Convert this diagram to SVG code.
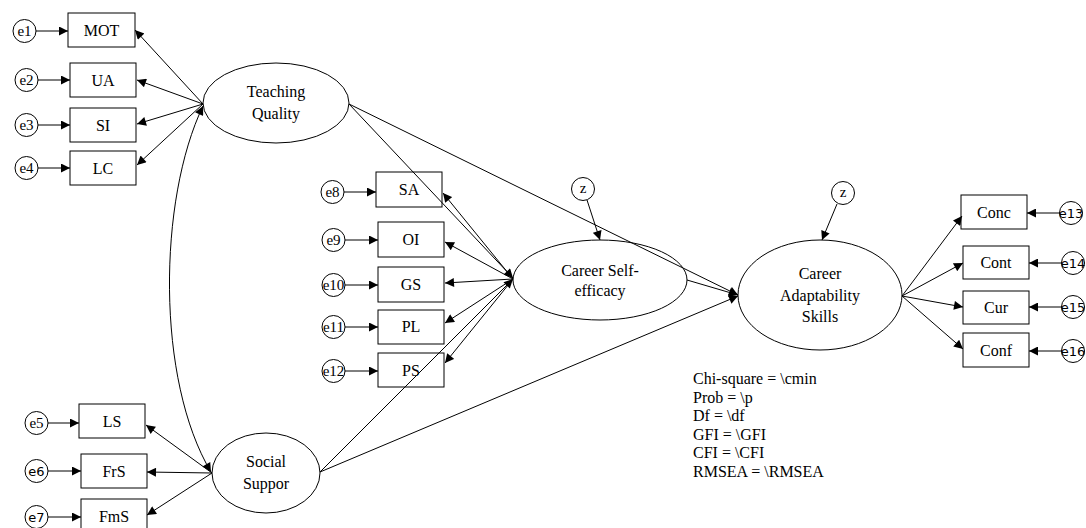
<svg xmlns="http://www.w3.org/2000/svg" width="1086" height="528" viewBox="0 0 1086 528" font-family="'Liberation Serif', 'Times New Roman', serif">
<style>
.bx{fill:none;stroke:#000;stroke-width:1}
.lv{fill:none;stroke:#000;stroke-width:1}
.ec{fill:none;stroke:#000;stroke-width:1}
text{font-family:'Liberation Serif','Times New Roman',serif;font-size:16px;fill:#000}
.t{text-anchor:middle}
.te{text-anchor:middle;font-size:15px}
.ts{text-anchor:middle;font-size:13px;font-family:'DejaVu Sans','Liberation Sans',sans-serif}
.c line,.c path{stroke:#000;stroke-width:1;fill:none;marker-end:url(#ah)}
.c path.cov{marker-start:url(#ahs)}
</style>
<defs>
<marker id="ah" viewBox="0 0 10 10" refX="10" refY="5" markerWidth="11" markerHeight="9" markerUnits="userSpaceOnUse" orient="auto"><path d="M0,0 L10,5 L0,10 z" fill="#000"/></marker>
<marker id="ahs" viewBox="0 0 10 10" refX="10" refY="5" markerWidth="11" markerHeight="9" markerUnits="userSpaceOnUse" orient="auto-start-reverse"><path d="M0,0 L10,5 L0,10 z" fill="#000"/></marker>
</defs>
<rect width="1086" height="528" fill="#fff"/>
<g class="c" id="connectors">
<line x1="36" y1="31" x2="68" y2="31"/>
<line x1="38" y1="80" x2="70" y2="80"/>
<line x1="38" y1="125" x2="70" y2="125"/>
<line x1="38" y1="168" x2="70" y2="168"/>
<line x1="203" y1="104" x2="135" y2="30"/>
<line x1="203" y1="104" x2="137" y2="80"/>
<line x1="203" y1="104" x2="137" y2="124"/>
<line x1="203" y1="104" x2="137" y2="165"/>
<line x1="48" y1="423" x2="79" y2="423"/>
<line x1="48" y1="471" x2="81" y2="471"/>
<line x1="48" y1="517" x2="81" y2="517"/>
<line x1="212" y1="473" x2="146" y2="425"/>
<line x1="212" y1="473" x2="147" y2="472"/>
<line x1="212" y1="473" x2="147" y2="515"/>
<path class="cov" d="M203,106 C158,200 156,380 211,472"/>
<line x1="344" y1="192" x2="376" y2="192"/>
<line x1="345" y1="240" x2="378" y2="240"/>
<line x1="345" y1="285" x2="378" y2="285"/>
<line x1="345" y1="327" x2="378" y2="327"/>
<line x1="345" y1="371" x2="378" y2="371"/>
<line x1="513" y1="279" x2="443" y2="193"/>
<line x1="513" y1="279" x2="445" y2="242"/>
<line x1="513" y1="279" x2="445" y2="283"/>
<line x1="513" y1="279" x2="445" y2="323"/>
<line x1="513" y1="279" x2="445" y2="363"/>
<line x1="349" y1="104" x2="513" y2="278"/>
<line x1="349" y1="104" x2="738" y2="295"/>
<line x1="687" y1="280" x2="738" y2="295"/>
<line x1="320" y1="472" x2="513" y2="279"/>
<line x1="320" y1="472" x2="738" y2="296"/>
<line x1="587" y1="200" x2="600" y2="240"/>
<line x1="837" y1="204" x2="822" y2="240"/>
<line x1="902" y1="296" x2="962" y2="216"/>
<line x1="902" y1="296" x2="963" y2="263"/>
<line x1="902" y1="296" x2="963" y2="307"/>
<line x1="902" y1="296" x2="963" y2="349"/>
<line x1="1060" y1="213" x2="1027" y2="213"/>
<line x1="1062" y1="263" x2="1029" y2="263"/>
<line x1="1062" y1="307" x2="1029" y2="307"/>
<line x1="1062" y1="351" x2="1029" y2="351"/>
</g>
<g id="tq"><ellipse class="lv" cx="276" cy="103" rx="73" ry="40"/><text class="t" x="276" y="97">Teaching</text><text class="t" x="276" y="119">Quality</text></g>
<g id="ss"><ellipse class="lv" cx="266" cy="473" rx="54" ry="40"/><text class="t" x="266" y="467">Social</text><text class="t" x="266" y="489">Suppor</text></g>
<g id="cse"><ellipse class="lv" cx="600" cy="280" rx="87" ry="40"/><text class="t" x="600" y="276">Career Self-</text><text class="t" x="600" y="296">efficacy</text></g>
<g id="cas"><ellipse class="lv" cx="820" cy="295" rx="82" ry="55"/><text class="t" x="820" y="279">Career</text><text class="t" x="820" y="301">Adaptability</text><text class="t" x="820" y="322">Skills</text></g>
<g id="mot"><rect class="bx" x="68" y="13" width="67" height="34"/><text class="t" x="101.5" y="36">MOT</text></g>
<g id="ua"><rect class="bx" x="70" y="63" width="66" height="34"/><text class="t" x="103" y="86">UA</text></g>
<g id="si"><rect class="bx" x="70" y="108" width="66" height="34"/><text class="t" x="103" y="131">SI</text></g>
<g id="lc"><rect class="bx" x="70" y="151" width="66" height="34"/><text class="t" x="103" y="174">LC</text></g>
<g id="ls"><rect class="bx" x="79" y="404" width="66" height="34"/><text class="t" x="112" y="427">LS</text></g>
<g id="frs"><rect class="bx" x="81" y="454" width="66" height="34"/><text class="t" x="114" y="477">FrS</text></g>
<g id="fms"><rect class="bx" x="81" y="499" width="66" height="34"/><text class="t" x="114" y="522">FmS</text></g>
<g id="sa"><rect class="bx" x="376" y="172" width="66" height="35"/><text class="t" x="409" y="195">SA</text></g>
<g id="oi"><rect class="bx" x="378" y="222" width="66" height="35"/><text class="t" x="411" y="245">OI</text></g>
<g id="gs"><rect class="bx" x="378" y="267" width="66" height="35"/><text class="t" x="411" y="290">GS</text></g>
<g id="pl"><rect class="bx" x="378" y="310" width="66" height="34"/><text class="t" x="411" y="332">PL</text></g>
<g id="ps"><rect class="bx" x="378" y="353" width="66" height="34"/><text class="t" x="411" y="376">PS</text></g>
<g id="conc"><rect class="bx" x="961" y="195" width="66" height="34"/><text class="t" x="994" y="218">Conc</text></g>
<g id="cont"><rect class="bx" x="963" y="246" width="66" height="33"/><text class="t" x="996" y="268">Cont</text></g>
<g id="cur"><rect class="bx" x="963" y="291" width="66" height="33"/><text class="t" x="996" y="313">Cur</text></g>
<g id="conf"><rect class="bx" x="963" y="333" width="66" height="34"/><text class="t" x="996" y="356">Conf</text></g>
<g id="e1"><circle class="ec" cx="24.5" cy="31" r="11.5"/><text class="te" x="24.5" y="36">e1</text></g>
<g id="e2"><circle class="ec" cx="26.5" cy="80" r="11.5"/><text class="te" x="26.5" y="85">e2</text></g>
<g id="e3"><circle class="ec" cx="26.5" cy="125" r="11.5"/><text class="te" x="26.5" y="130">e3</text></g>
<g id="e4"><circle class="ec" cx="26.5" cy="168" r="11.5"/><text class="te" x="26.5" y="173">e4</text></g>
<g id="e5"><circle class="ec" cx="36.5" cy="423" r="11.5"/><text class="te" x="36.5" y="428">e5</text></g>
<g id="e6"><circle class="ec" cx="36.5" cy="471" r="11.5"/><text class="ts" x="36.5" y="476">e6</text></g>
<g id="e7"><circle class="ec" cx="36.5" cy="517" r="11.5"/><text class="ts" x="36.5" y="522">e7</text></g>
<g id="e8"><circle class="ec" cx="332.5" cy="192" r="11.5"/><text class="te" x="332.5" y="197">e8</text></g>
<g id="e9"><circle class="ec" cx="333.5" cy="240" r="11.5"/><text class="te" x="333.5" y="245">e9</text></g>
<g id="e10"><circle class="ec" cx="333.5" cy="285" r="11.5"/><text class="te" x="333.5" y="290">e10</text></g>
<g id="e11"><circle class="ec" cx="333.5" cy="327" r="11.5"/><text class="te" x="333.5" y="332">e11</text></g>
<g id="e12"><circle class="ec" cx="333.5" cy="371" r="11.5"/><text class="te" x="333.5" y="376">e12</text></g>
<g id="z1"><circle class="ec" cx="583" cy="189" r="11.5"/><text class="te" x="583" y="193">z</text></g>
<g id="z2"><circle class="ec" cx="843" cy="193" r="11.5"/><text class="te" x="843" y="197">z</text></g>
<g id="e13"><circle class="ec" cx="1071" cy="213" r="11.5"/><text class="ts" x="1071" y="218">e13</text></g>
<g id="e14"><circle class="ec" cx="1073" cy="263" r="11.5"/><text class="ts" x="1073" y="268">e14</text></g>
<g id="e15"><circle class="ec" cx="1073" cy="307" r="11.5"/><text class="ts" x="1073" y="312">e15</text></g>
<g id="e16"><circle class="ec" cx="1073" cy="351" r="11.5"/><text class="ts" x="1073" y="356">e16</text></g>
<g id="fit">
<text x="693" y="384">Chi-square = \cmin</text>
<text x="693" y="403">Prob = \p</text>
<text x="693" y="421">Df = \df</text>
<text x="693" y="440">GFI = \GFI</text>
<text x="693" y="458">CFI = \CFI</text>
<text x="693" y="477">RMSEA = \RMSEA</text>
</g>
</svg>
